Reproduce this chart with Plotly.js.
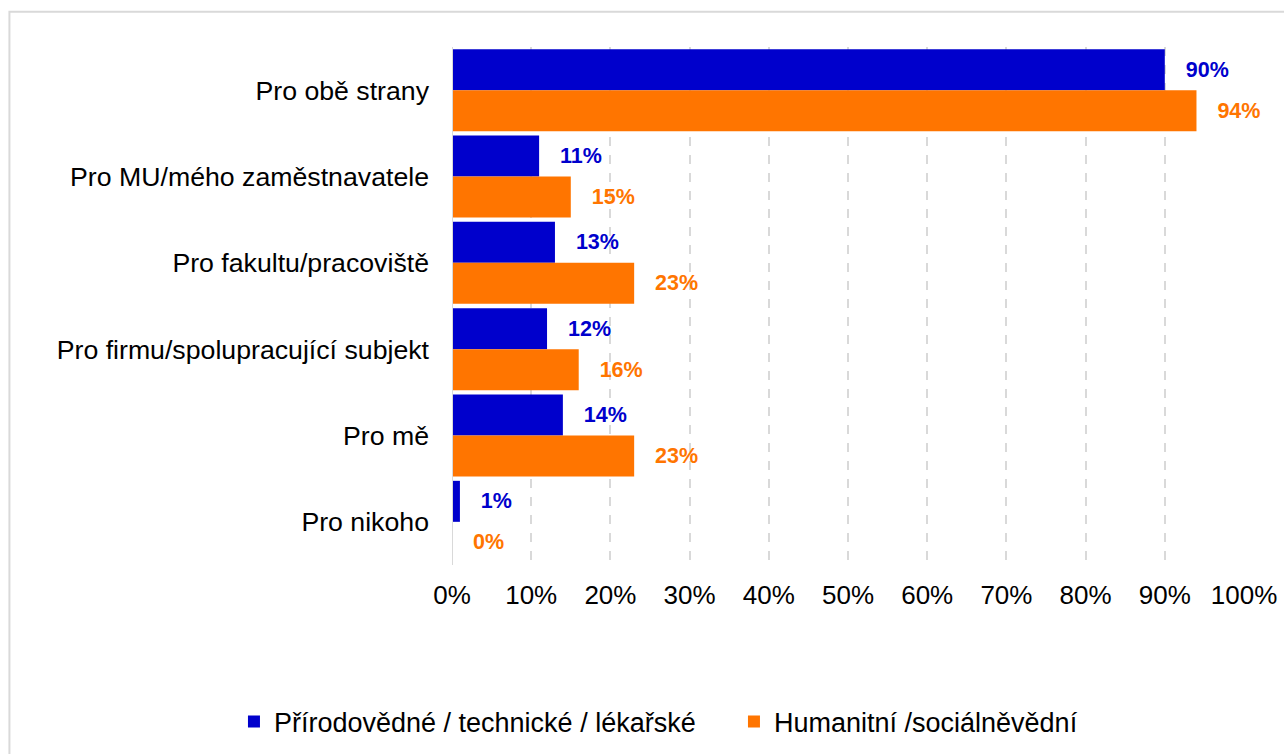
<!DOCTYPE html>
<html><head><meta charset="utf-8">
<script src="https://cdn.plot.ly/plotly-3.0.1.min.js"></script>
<style>html,body{margin:0;padding:0;background:#fff;}#chart{width:1284px;height:754px;}</style>
</head><body><div id="chart"></div>
<script>
const categories = ["Pro obě strany","Pro MU/mého zaměstnavatele","Pro fakultu/pracoviště","Pro firmu/spolupracující subjekt","Pro mě","Pro nikoho"];
const seriesNames = ["Přírodovědné / technické / lékařské","Humanitní /sociálněvědní"];
const prirodovedne = [90, 11, 13, 12, 14, 1];
const humanitni = [94, 15, 23, 16, 23, 0];
const tickVals = [0,10,20,30,40,50,60,70,80,90,100];
const tickText = ["0%","10%","20%","30%","40%","50%","60%","70%","80%","90%","100%"];
const colors = ["#0000CC","#FF7500"];

const font = "Liberation Sans, Arial, sans-serif";
function mk(vals, name, color){
  return {type:'bar', orientation:'h', x:vals, y:categories, name:name,
    marker:{color:color},
    text: vals.map(v => '\u00a0\u00a0\u00a0' + v + '%'),
    texttemplate:'%{text}', textposition:'outside', cliponaxis:false, constraintext:'none',
    textfont:{family:font, size:21.5, color:color, weight:'bold'},
    hoverinfo:'skip'};
}
const data = [mk(prirodovedne, seriesNames[0], colors[0]), mk(humanitni, seriesNames[1], colors[1])];
const layout = {
  width:1284, height:754,
  margin:{l:452, r:40, t:47, b:189, autoexpand:false},
  paper_bgcolor:'#fff', plot_bgcolor:'#fff',
  barmode:'group', bargap:0.05, bargroupgap:0,
  font:{family:font, color:'#000'},
  xaxis:{range:[0,100], tickvals:tickVals, ticktext:tickText, showgrid:true, gridcolor:'#d9d9d9', griddash:'dash', gridwidth:2,
    zeroline:false, showline:false, ticks:'', tickfont:{size:26, color:'#000'}, ticklabelstandoff:12, fixedrange:true, automargin:false},
  yaxis:{type:'category', autorange:'reversed', showgrid:false, zeroline:false, showline:false, ticks:'', tickfont:{size:26.7,color:'#000'}, ticklabelstandoff:22, fixedrange:true, automargin:false},
  showlegend:true,
  legend:{orientation:'h', x:-0.2753, xanchor:'left', y:-0.303, yanchor:'middle', font:{size:27, color:'#000'}, traceorder:'normal', entrywidth:455, entrywidthmode:'pixels'},
  shapes:[
    {type:'rect', xref:'paper', yref:'paper', x0:-0.5588, x1:1.1, y0:1.068, y1:-0.5, line:{color:'#d9d9d9', width:2}, fillcolor:'rgba(0,0,0,0)', layer:'below'},
    {type:'line', xref:'x', yref:'paper', x0:0, x1:0, y0:0, y1:1, line:{color:'#d9d9d9', width:2}, layer:'above'}
  ]
};
Plotly.newPlot('chart', data, layout, {displayModeBar:false, staticPlot:true});
</script></body></html>
